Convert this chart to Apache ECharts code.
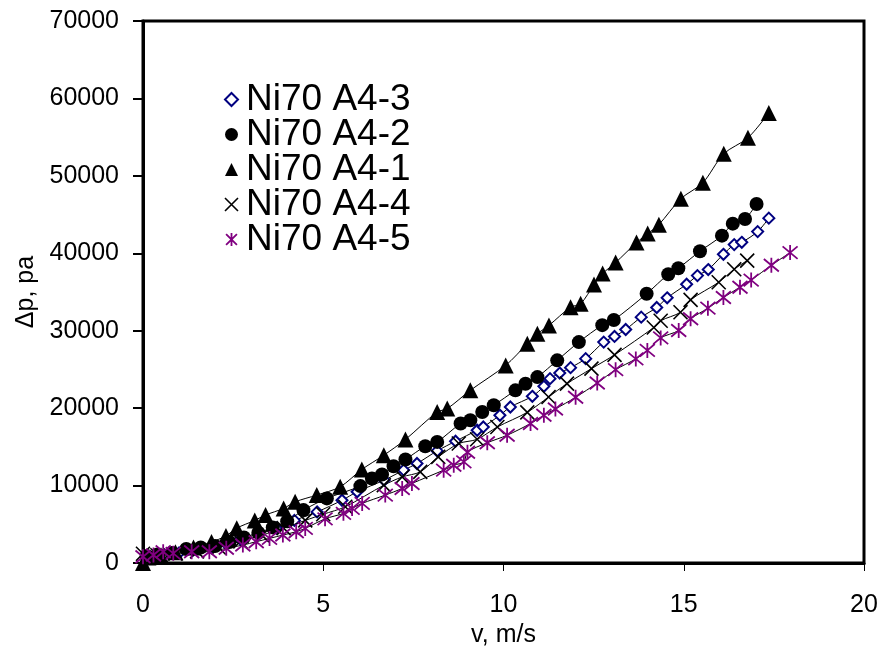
<!DOCTYPE html>
<html>
<head>
<meta charset="utf-8">
<script src="https://cdn.jsdelivr.net/npm/echarts@6/dist/echarts.min.js"></script>
<style>
  html, body { margin: 0; padding: 0; background: #fff; }
  #chart { width: 881px; height: 647px; }
</style>
</head>
<body>
<div id="chart"></div>
<script>
// Pressure drop Δp (Pa) against superficial velocity v (m/s) for five Ni70 A4 samples.
const seriesNames = ['Ni70 A4-3', 'Ni70 A4-2', 'Ni70 A4-1', 'Ni70 A4-4', 'Ni70 A4-5'];

const a43_v = [0.2, 0.6, 1.0, 1.4, 1.9, 2.3, 2.7, 3.2, 3.7, 4.2, 4.83, 5.52, 5.94, 6.69, 7.23, 7.6, 8.16, 8.67, 9.27, 9.44, 9.9, 10.19, 10.8, 11.12, 11.29, 11.56, 11.86, 12.28, 12.78, 13.08, 13.39, 13.82, 14.25, 14.54, 15.08, 15.38, 15.68, 16.1, 16.4, 16.61, 17.05, 17.36];
const a43_p = [800, 1000, 1300, 1700, 2000, 2500, 3100, 3700, 4500, 5500, 6600, 8100, 9200, 10700, 12000, 12850, 14480, 15730, 17140, 17570, 19080, 20150, 21530, 22820, 23810, 24530, 25230, 26390, 28530, 29260, 30160, 31750, 33000, 34250, 36000, 37120, 37900, 39870, 41120, 41420, 42800, 44540];

const a42_v = [0.1, 0.4, 0.8, 1.2, 1.6, 2.0, 2.4, 2.8, 3.2, 3.6, 4.0, 4.45, 5.1, 6.03, 6.35, 6.63, 6.95, 7.28, 7.83, 8.16, 8.81, 9.08, 9.41, 9.73, 10.33, 10.61, 10.94, 11.49, 12.09, 12.74, 13.06, 13.97, 14.57, 14.85, 15.45, 16.06, 16.36, 16.7, 17.02];
const a42_p = [900, 1100, 1300, 1800, 2000, 2200, 2700, 3300, 3900, 4600, 5400, 6830, 8340, 9930, 10920, 11430, 12500, 13370, 15080, 15640, 18010, 18430, 19500, 20370, 22300, 23160, 24010, 26170, 28530, 30720, 31390, 34770, 37290, 38070, 40260, 42280, 43830, 44430, 46370];

const a41_v = [0, 0.15, 0.5, 0.9, 1.4, 1.9, 2.3, 2.6, 3.1, 3.4, 3.9, 4.22, 4.82, 5.47, 6.07, 6.68, 7.28, 8.16, 8.44, 9.08, 10.06, 10.66, 10.94, 11.26, 11.86, 12.14, 12.51, 12.75, 13.11, 13.69, 14.0, 14.31, 14.92, 15.53, 16.11, 16.78, 17.36];
const a41_p = [0, 700, 1000, 1400, 2000, 2700, 3500, 4500, 5500, 6200, 7050, 7900, 8770, 9840, 12080, 13920, 15950, 19500, 19940, 22300, 25520, 28320, 29610, 30680, 33040, 33480, 35960, 37380, 38800, 41380, 42540, 43700, 47050, 49110, 52850, 54910, 58130];

const a44_v = [0, 0.4, 0.9, 1.5, 2.1, 2.7, 3.3, 3.9, 4.5, 5.0, 5.61, 6.68, 7.19, 7.69, 8.19, 8.76, 9.27, 9.83, 10.66, 11.25, 11.76, 12.44, 13.08, 14.17, 14.36, 14.91, 15.19, 15.97, 16.4, 16.76];
const a44_p = [1200, 1000, 1200, 1500, 2000, 2800, 3600, 4500, 5500, 6300, 7260, 10050, 11120, 11770, 13700, 15430, 15980, 17570, 19460, 21440, 23160, 25100, 26880, 30420, 31290, 32390, 33990, 36260, 37940, 39060];

const a45_v = [0, 0.29, 0.56, 0.84, 1.35, 1.84, 2.31, 2.77, 3.14, 3.51, 3.88, 4.25, 4.5, 5.05, 5.56, 5.8, 6.08, 6.72, 7.19, 7.46, 8.34, 8.62, 8.9, 9.0, 9.55, 10.1, 10.75, 11.12, 11.44, 12.0, 12.6, 13.11, 13.67, 13.99, 14.36, 14.86, 15.19, 15.67, 16.1, 16.56, 16.87, 17.43, 17.95];
const a45_p = [800, 1030, 1460, 1250, 1460, 1460, 1900, 2320, 2750, 3180, 3610, 4040, 4470, 5700, 6410, 7050, 7700, 8770, 9630, 10270, 11990, 12630, 13060, 14310, 15530, 16500, 18010, 19080, 19890, 21400, 23240, 24970, 26360, 27460, 29070, 30030, 31540, 32910, 34290, 35620, 36540, 38450, 40090];

const xTicks = [0, 5, 10, 15, 20];
const yTicks = [0, 10000, 20000, 30000, 40000, 50000, 60000, 70000];

const FONT = "'Liberation Sans', Arial, sans-serif";
const NAVY = '#000080';
const PURPLE = '#800080';
const DIAMOND = 'path://M5,0L10,5L5,10L0,5Z';
const CROSS = 'path://M0,0L10,10M10,0L0,10';
const ASTER = 'path://M0,0L10,10M10,0L0,10M5,-1L5,11';

function pairs(vs, ps) { return vs.map((v, i) => [v, ps[i]]); }

const markerStyles = [
  { symbol: DIAMOND, size: 11, item: { color: '#fff', borderColor: NAVY, borderWidth: 2 } },
  { symbol: 'circle', size: 14, item: { color: '#000', borderColor: '#000', borderWidth: 0 } },
  { symbol: 'triangle', size: 16, item: { color: '#000', borderColor: '#000', borderWidth: 0 } },
  { symbol: CROSS, size: 14, item: { color: 'transparent', borderColor: '#000', borderWidth: 1.6 } },
  { symbol: ASTER, size: 15, item: { color: 'transparent', borderColor: PURPLE, borderWidth: 1.8 } }
];

const datasets = [
  pairs(a43_v, a43_p),
  pairs(a42_v, a42_p),
  pairs(a41_v, a41_p),
  pairs(a44_v, a44_p),
  pairs(a45_v, a45_p)
];

const chart = echarts.init(document.getElementById('chart'), null, { renderer: 'canvas' });

chart.setOption({
  animation: false,
  backgroundColor: '#fff',
  textStyle: { fontFamily: FONT },
  grid: {
    left: 143, right: 17, top: 21, bottom: 84,
    outerBoundsMode: 'none',
    containLabel: false,
    show: true, borderColor: '#000', borderWidth: 3, backgroundColor: 'transparent'
  },
  legend: {
    orient: 'vertical',
    left: 219, top: 76,
    itemGap: -2,
    itemWidth: 13, itemHeight: 13,
    textStyle: { fontFamily: FONT, fontSize: 37, color: '#000', padding: [0, 0, 0, 3] },
    data: seriesNames.map((n, i) => ({
      name: n,
      icon: markerStyles[i].symbol,
      itemStyle: markerStyles[i].item,
      lineStyle: { width: 0, opacity: 0 }
    }))
  },
  xAxis: {
    type: 'value', min: 0, max: 20, interval: 5,
    name: 'v, m/s', nameLocation: 'middle', nameGap: 56,
    nameTextStyle: { fontFamily: FONT, fontSize: 25, color: '#000' },
    axisLine: { show: true, lineStyle: { color: '#000', width: 3 } },
    axisTick: { show: true, inside: false, length: 8, lineStyle: { color: '#000', width: 1 } },
    axisLabel: { fontFamily: FONT, fontSize: 25, color: '#000', margin: 30,
      formatter: v => xTicks.includes(v) ? String(v) : '' },
    splitLine: { show: false }
  },
  yAxis: {
    type: 'value', min: 0, max: 70000, interval: 10000,
    name: 'Δp, pa', nameLocation: 'middle', nameGap: 98, nameRotate: 90,
    nameTextStyle: { fontFamily: FONT, fontSize: 25, color: '#000' },
    axisLine: { show: true, lineStyle: { color: '#000', width: 3 } },
    axisTick: { show: true, inside: false, length: 10, lineStyle: { color: '#000', width: 2 } },
    axisLabel: { fontFamily: FONT, fontSize: 25, color: '#000', margin: 24,
      formatter: v => yTicks.includes(v) ? String(v) : '' },
    splitLine: { show: false }
  },
  series: seriesNames.map((n, i) => ({
    name: n,
    type: 'line',
    data: datasets[i],
    smooth: 0.3,
    symbol: markerStyles[i].symbol,
    symbolSize: markerStyles[i].size,
    showAllSymbol: true,
    itemStyle: markerStyles[i].item,
    lineStyle: { color: '#000', width: 1 },
    emphasis: { disabled: true },
    z: 2 + i
  }))
});
</script>
</body>
</html>
